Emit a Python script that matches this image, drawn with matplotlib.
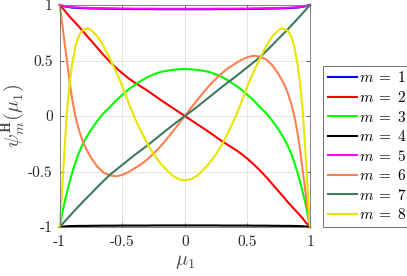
import numpy as np
import matplotlib
matplotlib.use("Agg")
import matplotlib.pyplot as plt

# values
mu1 = [-1, -0.98, -0.96, -0.94, -0.92, -0.9, -0.875, -0.85, -0.825, -0.8, -0.775,
       -0.75, -0.7, -0.65, -0.6, -0.55, -0.5, -0.45, -0.4, -0.35, -0.3,
       -0.25, -0.2, -0.15, -0.1, -0.05, 0,
       0.05, 0.1, 0.15, 0.2, 0.25, 0.3, 0.35, 0.4, 0.45, 0.5,
       0.55, 0.6, 0.65, 0.7, 0.75, 0.775, 0.8, 0.825, 0.85, 0.875,
       0.9, 0.92, 0.94, 0.96, 0.98, 1]

psi_m1 = [1, .994, .988, .984, .98, .977, .975, .973, .972, .971, .970,
          .969, .968, .967, .966, .965, .964, .964, .963, .963, .963,
          .963, .962, .962, .962, .962, .962,
          .962, .962, .962, .962, .963, .963, .963, .963, .964, .964,
          .965, .966, .967, .968, .969, .970, .971, .972, .973, .975,
          .977, .98, .984, .988, .994, 1]
psi_m2 = [1, .975, .95, .92, .895, .87, .84, .81, .778, .745, .712,
          .68, .615, .55, .49, .435, .385, .34, .3, .265, .23,
          .19, .15, .112, .075, .037, 0,
          -.037, -.075, -.112, -.15, -.19, -.23, -.265, -.3, -.34, -.385,
          -.435, -.49, -.55, -.615, -.68, -.712, -.745, -.778, -.81, -.84,
          -.87, -.895, -.92, -.95, -.975, -1]
psi_m3 = [-1, -.88, -.77, -.68, -.59, -.51, -.42, -.34, -.275, -.22, -.17,
          -.125, -.045, .025, .08, .14, .19, .24, .28, .318, .35,
          .375, .395, .407, .415, .421, .423,
          .421, .415, .407, .395, .375, .35, .318, .28, .24, .19,
          .14, .08, .025, -.045, -.125, -.17, -.22, -.275, -.34, -.42,
          -.51, -.59, -.68, -.77, -.88, -1]
psi_m4 = [-1, -.997, -.995, -.993, -.992, -.991, -.991, -.99, -.99, -.99, -.99,
          -.989, -.989, -.988, -.988, -.988, -.987, -.987, -.987, -.987, -.987,
          -.986, -.986, -.986, -.986, -.986, -.986,
          -.986, -.986, -.986, -.986, -.986, -.987, -.987, -.987, -.987, -.987,
          -.988, -.988, -.988, -.989, -.989, -.99, -.99, -.99, -.99, -.991,
          -.991, -.992, -.993, -.995, -.997, -1]
psi_m5 = [1, .995, .99, .986, .983, .981, .979, .977, .976, .975, .974,
          .973, .972, .971, .970, .969, .968, .968, .967, .967, .967,
          .967, .966, .966, .966, .966, .966,
          .966, .966, .966, .966, .967, .967, .967, .967, .968, .968,
          .969, .970, .971, .972, .973, .974, .975, .976, .977, .979,
          .981, .983, .986, .99, .995, 1]
psi_m6 = [1, .83, .65, .48, .3, .15, 0, -.11, -.2, -.27, -.325,
          -.375, -.455, -.51, -.535, -.543, -.53, -.505, -.47, -.435, -.39,
          -.338, -.28, -.215, -.145, -.073, 0,
          .073, .145, .215, .28, .338, .39, .435, .47, .505, .53,
          .543, .535, .51, .455, .375, .325, .27, .2, .11, 0,
          -.15, -.3, -.48, -.65, -.83, -1]
psi_m7 = [-1, -.975, -.95, -.925, -.9, -.875, -.845, -.815, -.785, -.755, -.727,
          -.7, -.64, -.585, -.53, -.485, -.44, -.395, -.35, -.308, -.265,
          -.22, -.175, -.13, -.085, -.042, 0,
          .042, .085, .13, .175, .22, .265, .308, .35, .395, .44,
          .485, .53, .585, .64, .7, .727, .755, .785, .815, .845,
          .875, .9, .925, .95, .975, 1]
psi_m8 = [-1, -.64, -.27, .07, .30, .47, .625, .715, .765, .782, .79,
          .775, .72, .63, .52, .40, .27, .12, -.02, -.138, -.25,
          -.342, -.42, -.482, -.535, -.569, -.58,
          -.569, -.535, -.482, -.42, -.342, -.25, -.138, -.02, .12, .27,
          .40, .52, .63, .72, .775, .79, .782, .765, .715, .625,
          .47, .30, .07, -.27, -.64, -1]

series = [psi_m1, psi_m2, psi_m3, psi_m4, psi_m5, psi_m6, psi_m7, psi_m8]
labels = [r"$m\;=\;%d$" % m for m in range(1, 9)]
colors = ["#0000ff", "#ff0000", "#00ff00", "#000000",
          "#ff00ff", "#ff7f50", "#3f7a5c", "#e6e600"]

ticks = [-1, -0.5, 0, 0.5, 1]
tick_labels = ["-1", "-0.5", "0", "0.5", "1"]

plt.rcParams["mathtext.fontset"] = "cm"
plt.rcParams["font.family"] = ["cmr10", "DejaVu Sans"]
plt.rcParams["axes.unicode_minus"] = False

fig = plt.figure(figsize=(4.07, 2.76), dpi=100)
ax = fig.add_axes([0.1467, 0.1775, 0.615, 0.8043])

for y, c, lbl in zip(series, colors, labels):
    ax.plot(mu1, y, color=c, lw=1.5, label=lbl, clip_on=False)

ax.set_xlim(-1, 1)
ax.set_ylim(-1, 1)
ax.set_xticks(ticks)
ax.set_xticklabels(tick_labels)
ax.set_yticks(ticks)
ax.set_yticklabels(tick_labels)
ax.tick_params(direction="in", top=True, right=True, length=3, width=0.5,
               colors="0.15", labelsize=11)
ax.tick_params(axis="x", pad=6)
ax.tick_params(axis="y", pad=5)
ax.grid(True, color="0.88", lw=0.6)
for sp in ax.spines.values():
    sp.set_color("0.45")
    sp.set_linewidth(0.6)

ax.set_xlabel(r"$\mu_1$", fontsize=14.5, color="0.3", labelpad=3)
ax.set_ylabel(r"$\psi_m^{\mathbf{H}}(\mu_1)$", fontsize=14.5, color="0.3", labelpad=0)

leg = fig.legend(loc="lower left", bbox_to_anchor=(0.7936, 0.1775),
                 bbox_transform=fig.transFigure, fontsize=11,
                 handlelength=1.9, handletextpad=0.15, labelspacing=0.3,
                 borderpad=0.3, borderaxespad=0, fancybox=False,
                 framealpha=1, edgecolor="0.35")
leg.get_frame().set_linewidth(0.6)

fig.savefig("out.png", dpi=100)
